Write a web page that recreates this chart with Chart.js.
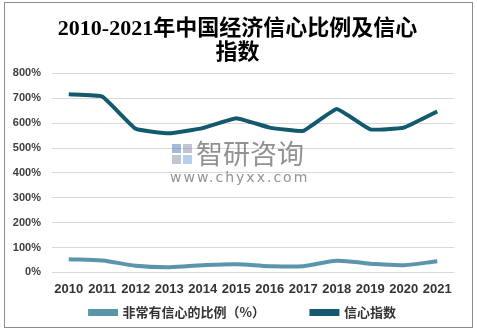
<!DOCTYPE html>
<html>
<head>
<meta charset="utf-8">
<script src="https://cdn.jsdelivr.net/npm/chart.js@4/dist/chart.umd.min.js"></script>
<style>
  body { margin: 0; background: #fff; }
  #wrap { position: relative; width: 477px; height: 331px; }
  #frame { position: absolute; left: 4px; top: 2px; width: 467px; height: 324px; border: 1px solid #8c8c8c; pointer-events: none; }
</style>
</head>
<body>
<div id="wrap">
  <canvas id="confidence" width="477" height="331"></canvas>
  <div id="frame"></div>
</div>
<script>
var years = ["2010", "2011", "2012", "2013", "2014", "2015", "2016", "2017", "2018", "2019", "2020", "2021"];
var veryConfident = [53, 48, 27, 21, 29, 33, 25, 25, 47, 35, 29, 45];
var confidenceIndex = [716, 707, 577, 559, 580, 620, 582, 569, 657, 575, 582, 647];
var yTicks = [0, 100, 200, 300, 400, 500, 600, 700, 800];

var cjk = "'Noto Sans CJK SC', sans-serif";

// watermark in the middle of the plot
var watermark = {
  id: 'watermark',
  afterLayout: function (chart) {
    // y axis is kept narrow; let its labels overflow to the left
    chart.scales.y.left = 0;
  },
  beforeDatasetsDraw: function (chart) {
    var c = chart.ctx;
    c.save();
    c.fillStyle = 'rgba(90,130,190,0.55)';
    c.fillRect(172, 144, 9, 9);
    c.fillStyle = 'rgba(120,170,220,0.55)';
    c.fillRect(183, 155, 9, 9);
    c.fillStyle = 'rgba(140,150,170,0.55)';
    c.fillRect(183, 144, 9, 9);
    c.fillRect(172, 155, 9, 9);
    c.fillStyle = 'rgba(110,110,110,0.75)';
    c.font = "27px " + cjk;
    c.textBaseline = 'middle';
    c.fillText('智研咨询', 196, 154);
    c.font = "14px 'DejaVu Sans', sans-serif";
    c.letterSpacing = '2px';
    c.fillText('www.chyxx.com', 170, 178);
    c.restore();
  }
};

new Chart(document.getElementById('confidence').getContext('2d'), {
  type: 'line',
  data: {
    labels: years,
    datasets: [{
      label: "非常有信心的比例（%）             ",
      data: veryConfident,
      borderColor: "#5b95ab",
      backgroundColor: "#5b95ab",
      borderWidth: 4,
      tension: 0.3,
      pointRadius: 0,
      fill: false
    }, {
      label: "信心指数",
      data: confidenceIndex,
      borderColor: "#145a6e",
      backgroundColor: "#145a6e",
      borderWidth: 4,
      tension: 0.1,
      pointRadius: 0,
      fill: false
    }]
  },
  options: {
    responsive: false,
    animation: false,
    layout: { padding: { left: 32, right: 23, top: 0, bottom: 2 } },
    plugins: {
      title: {
        display: true,
        text: ["2010-2021年中国经济信心比例及信心  ", "指数  "],
        color: "#000",
        font: { family: "'Liberation Serif', 'Noto Sans CJK SC', serif", size: 22, weight: 'bold', lineHeight: 1.1 },
        padding: { top: 17, bottom: 8 }
      },
      legend: {
        position: 'bottom',
        labels: {
          color: "#333",
          font: { family: cjk, size: 13, weight: 'bold' },
          boxWidth: 26,
          boxHeight: 3,
          padding: 8
        }
      },
      tooltip: { enabled: false }
    },
    scales: {
      x: {
        offset: true,
        grid: { display: false },
        border: { display: false },
        ticks: {
          color: "#333",
          font: { family: "'Liberation Sans', sans-serif", size: 13, weight: 'bold' },
          maxRotation: 0,
          padding: 1
        }
      },
      y: {
        min: 0,
        max: 800,
        afterBuildTicks: function (axis) {
          axis.ticks = yTicks.map(function (v) { return { value: v }; });
        },
        afterFit: function (axis) { axis.width = 20; },
        grid: { color: "#d9d9d9", drawTicks: false },
        border: { display: false },
        ticks: {
          color: "#404040",
          font: { family: "'Liberation Sans', sans-serif", size: 11, weight: 'bold' },
          padding: 11,
          callback: function (v) { return v + '%'; }
        }
      }
    }
  },
  plugins: [watermark]
});
</script>
</body>
</html>
